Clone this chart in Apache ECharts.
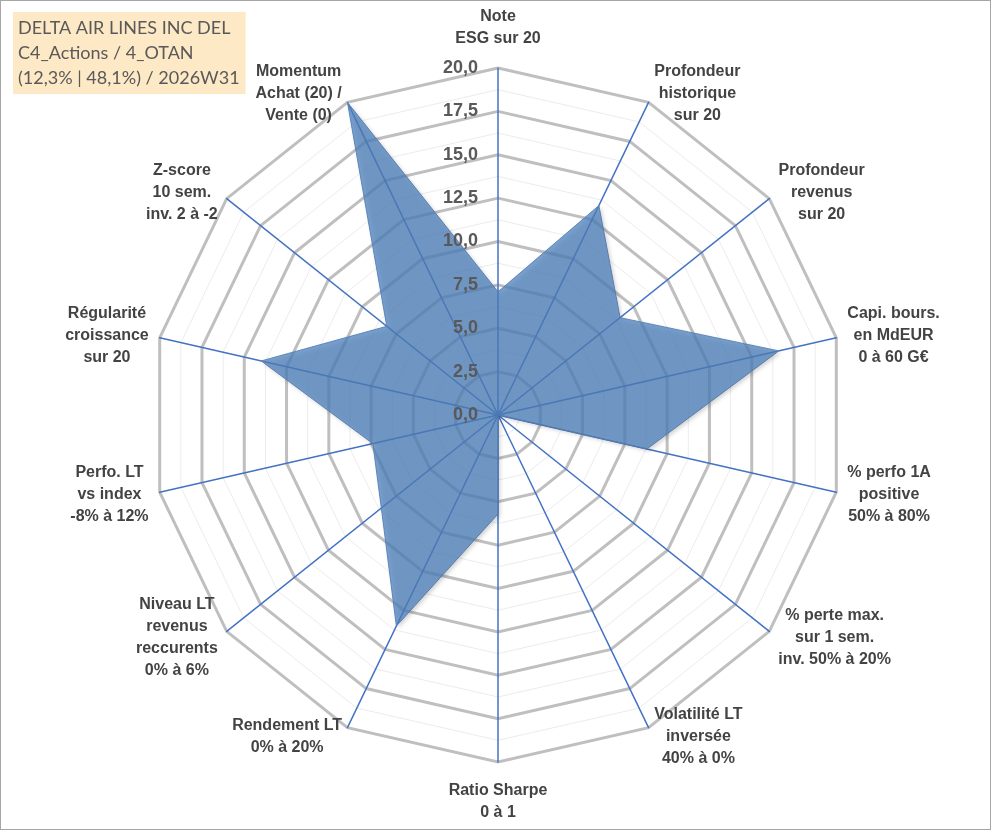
<!DOCTYPE html>
<html>
<head>
<meta charset="utf-8">
<script src="https://cdn.jsdelivr.net/npm/echarts@6/dist/echarts.min.js"></script>
<style>
html,body{margin:0;padding:0;background:#fff;}
#c{width:991px;height:830px;box-sizing:border-box;border:1px solid #a6a6a6;}
</style>
</head>
<body>
<div id="c"></div>
<script>
// Axes in clockwise order starting at the top
const axisNames = [
  'Note\nESG sur 20',
  'Profondeur\nhistorique\nsur 20',
  'Profondeur\nrevenus\nsur 20',
  'Capi. bours.\nen MdEUR\n0 à 60 G€',
  '% perfo 1A\npositive\n50% à 80%',
  '% perte max.\nsur 1 sem.\ninv. 50% à 20%',
  'Volatilité LT\ninversée\n40% à 0%',
  'Ratio Sharpe\n0 à 1',
  'Rendement LT\n0% à 20%',
  'Niveau LT\nrevenus\nreccurents\n0% à 6%',
  'Perfo. LT\nvs index\n-8% à 12%',
  'Régularité\ncroissance\nsur 20',
  'Z-score\n10 sem.\ninv. 2 à -2',
  'Momentum\nAchat (20) /\nVente (0)'
];
const scores = [7.1, 13.4, 9.0, 16.6, 8.8, 0, 0, 5.7, 13.5, 8.6, 7.4, 14.0, 8.2, 20];
const tickLabels = ['0,0','2,5','5,0','7,5','10,0','12,5','15,0','17,5','20,0'];
const axisMax = 20;
const tickStep = 2.5;
const titleLines = ['DELTA AIR LINES INC DEL', 'C4_Actions / 4_OTAN', '(12,3% | 48,1%) / 2026W31'];

// ECharts radar runs counter-clockwise: reverse all but the first
const n = axisNames.length;
const order = [0].concat(axisNames.map((_, i) => i).slice(1).reverse());
const cv = document.createElement('canvas').getContext('2d');
cv.font = 'bold 16px "Liberation Sans"';
const rich = {s: {fontSize: 1, lineHeight: 8, height: 8}};
order.forEach((k, j) => {
  const w = Math.max(...axisNames[k].split('\n').map(s => cv.measureText(s).width));
  rich['n' + j] = {width: Math.ceil(w) + 2, align: 'center', fontFamily: 'Liberation Sans', fontWeight: 'bold', fontSize: 16, lineHeight: 22, color: '#434343'};
});
const indicators = order.map(k => ({name: axisNames[k], max: axisMax, min: 0}));
const values = order.map(k => scores[k]);

const center = [497, 414];
const radius = 347;

const chart = echarts.init(document.getElementById('c'), null, {renderer: 'canvas'});
chart.setOption({
  animation: false,
  backgroundColor: '#fff',
  textStyle: {fontFamily: 'Liberation Sans'},
  title: {
    text: titleLines.join('\n'),
    left: 12, top: 11,
    backgroundColor: '#fde9c6',
    padding: [4, 6, 3, 5],
    textStyle: {fontFamily: 'Lato', fontSize: 18, fontWeight: 'normal', color: '#595959', lineHeight: 25}
  },
  radar: [
    {
      center: center, radius: radius, startAngle: 90, shape: 'polygon',
      splitNumber: axisMax / tickStep * 2,
      indicator: indicators.map(d => ({name: '', max: d.max, min: d.min})),
      axisName: {show: false},
      axisLine: {show: false},
      axisTick: {show: false},
      splitArea: {show: false},
      splitLine: {lineStyle: {color: '#ececec', width: 1}},
      silent: true
    },
    {
      center: center, radius: radius, startAngle: 90, shape: 'polygon',
      splitNumber: axisMax / tickStep,
      indicator: indicators,
      nameGap: 10,
      axisName: {
        fontFamily: 'Liberation Sans', fontWeight: 'bold', fontSize: 16, color: '#434343',
        formatter: function (name) {
          const j = indicators.findIndex(d => d.name === name);
          let txt = name.split('\n').map(s => '{n' + j + '|' + s + '}').join('\n');
          if (j === 0) txt = txt + '\n{s| }';
          if (j * 2 === n) txt = '{s| }\n' + txt;
          return txt;
        },
        rich: rich
      },
      axisLine: {lineStyle: {color: '#4472c4', width: 1.5}},
      axisTick: {show: false},
      splitArea: {show: false},
      splitLine: {lineStyle: {color: '#bfbfbf', width: 3}}
    }
  ],
  polar: {center: center, radius: radius},
  angleAxis: {show: false, startAngle: 90, min: 0, max: 360},
  radiusAxis: {
    type: 'value', min: 0, max: axisMax, interval: tickStep,
    axisLine: {show: false}, axisTick: {show: false}, splitLine: {show: false},
    axisLabel: {
      margin: 20,
      formatter: v => tickLabels[Math.round(v / tickStep)],
      fontFamily: 'Liberation Sans', fontWeight: 'bold', fontSize: 18, color: '#595959'
    },
    z: 10
  },
  series: [{
    type: 'radar',
    radarIndex: 1,
    symbol: 'none',
    z: 1,
    lineStyle: {width: 1, color: '#6b90c2'},
    areaStyle: {color: '#4f81bd', opacity: 0.75, shadowBlur: 4, shadowColor: 'rgba(0,0,0,0.25)', shadowOffsetX: 2, shadowOffsetY: 2},
    data: [{value: values, name: 'Score'}]
  }]
});
</script>
</body>
</html>
